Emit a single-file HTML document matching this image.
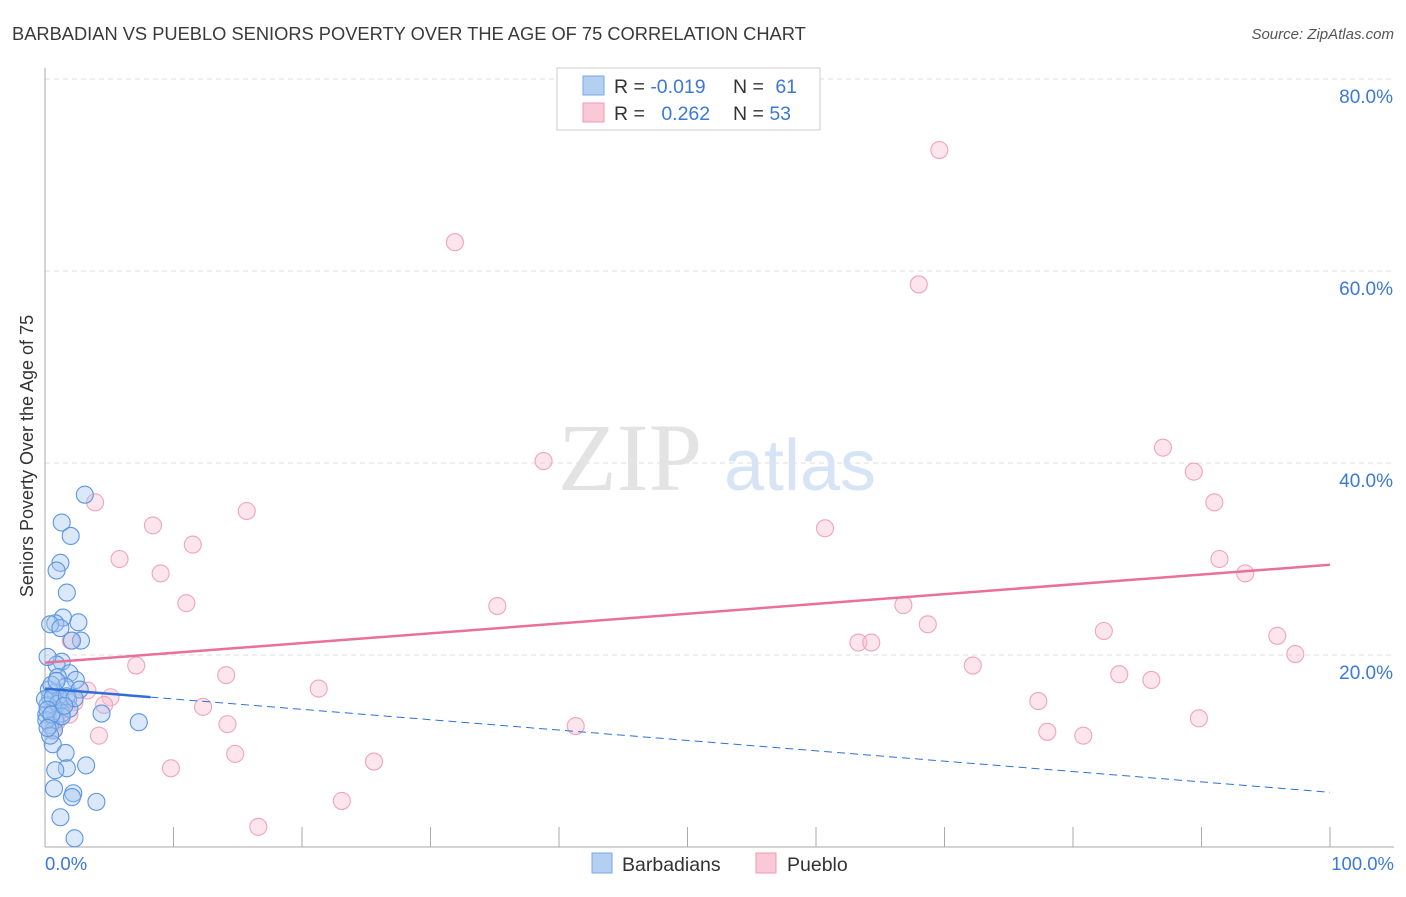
<!DOCTYPE html>
<html><head><meta charset="utf-8"><style>
body{margin:0;background:#fff;font-family:"Liberation Sans",sans-serif;}
</style></head><body>
<svg id="chart" width="1406" height="892" xmlns="http://www.w3.org/2000/svg" font-family="Liberation Sans, sans-serif">
<text x="12" y="40" font-size="18.3" fill="#3a3a3a">BARBADIAN VS PUEBLO SENIORS POVERTY OVER THE AGE OF 75 CORRELATION CHART</text>
<text x="1394" y="39" font-size="15" fill="#555" font-style="italic" text-anchor="end">Source: ZipAtlas.com</text>
<g id="grid"></g>
<text x="630" y="490" font-size="96" fill="#e3e3e3" font-family="Liberation Serif, serif" text-anchor="middle">ZIP</text>
<text x="800" y="490" font-size="72" fill="#d6e4f5" text-anchor="middle">atlas</text>
<line x1="45" y1="68" x2="45" y2="847" stroke="#aaa" stroke-width="1"/>
<line x1="45" y1="847" x2="1394" y2="847" stroke="#aaa" stroke-width="1"/>
<g id="xticks"></g>
<text x="45" y="870" font-size="18.5" fill="#3b78d8">0.0%</text>
<text x="1394" y="870" font-size="18.5" fill="#3b78d8" text-anchor="end">100.0%</text>
<text transform="translate(33,456) rotate(-90)" font-size="18" fill="#333" text-anchor="middle">Seniors Poverty Over the Age of 75</text>
<g id="points"></g>
<g id="trends"></g>
<g>
<rect x="557" y="68" width="263" height="62" fill="#fff" stroke="#ccc"/>
<rect x="583" y="76" width="21" height="19" fill="#b3cff2" stroke="#7aa7e6"/>
<rect x="583" y="103" width="21" height="19" fill="#fac8d6" stroke="#ef9ab3"/>
<text x="614" y="93" font-size="19.5" fill="#333">R = <tspan fill="#3b78d8">-0.019</tspan></text>
<text x="733" y="93" font-size="19.5" fill="#333">N = <tspan fill="#3b78d8" dx="6">61</tspan></text>
<text x="614" y="120" font-size="19.5" fill="#333">R = <tspan fill="#3b78d8" dx="11">0.262</tspan></text>
<text x="733" y="120" font-size="19.5" fill="#333">N = <tspan fill="#3b78d8">53</tspan></text>
</g>
<g>
<rect x="592" y="853" width="20" height="20" fill="#b3cff2" stroke="#7aa7e6"/>
<text x="622" y="871" font-size="19.5" fill="#333">Barbadians</text>
<rect x="756" y="853" width="20" height="20" fill="#fac8d6" stroke="#ef9ab3"/>
<text x="787" y="871" font-size="19.5" fill="#333">Pueblo</text>
</g>
</svg>
<script>
const yTicks=[20,40,60,80];
const yTickLabels=["20.0%","40.0%","60.0%","80.0%"];
const xTicks=[0,10,20,30,40,50,60,70,80,90,100];
const barbX=[3.1,1.3,2.0,1.2,0.9,1.7,1.4,0.8,2.6,0.4,1.2,2.8,2.1,1.3,0.9,0.2,1.9,1.0,2.4,1.6,0.8,2.7,1.8,0.4,1.2,0.2,0.7,1.3,0.1,0.8,0.4,0.7,4.4,7.3,0.6,1.6,3.2,1.7,0.8,0.7,2.2,2.1,4.0,1.2,2.3,0.3,0.5,0.0,1.0,1.9,0.1,0.4,1.3,0.6,1.7,0.9,2.3,0.2,0.5,0.2,1.5];
const barbY=[36.7,33.8,32.4,29.6,28.8,26.5,23.9,23.3,23.4,23.2,22.8,21.5,21.5,19.3,19.0,19.8,18.1,17.7,17.4,16.7,16.1,16.4,15.4,15.6,15.4,14.8,14.2,13.9,13.8,13.2,12.7,12.2,13.9,13.0,10.7,9.8,8.5,8.2,8.0,6.1,5.6,5.2,4.7,3.1,0.9,16.4,16.9,15.4,14.9,14.4,13.2,11.6,13.6,15.6,15.7,17.3,15.5,14.3,13.8,12.4,14.7];
const puebX=[69.6,31.9,68.0,38.8,87.0,89.4,91.0,3.9,15.7,8.4,60.7,11.5,5.8,91.4,9.0,93.4,11.0,35.2,66.8,68.7,82.4,95.9,2.0,63.3,64.3,97.3,7.1,72.2,83.6,86.1,14.1,21.3,3.3,5.1,77.3,12.3,4.6,2.3,1.9,89.8,14.2,41.3,78.0,80.8,4.2,0.6,14.8,25.6,9.8,23.1,16.6,1.2,0.9];
const puebY=[72.6,63.0,58.6,40.2,41.6,39.1,35.9,35.9,35.0,33.5,33.2,31.5,30.0,30.0,28.5,28.5,25.4,25.1,25.2,23.2,22.5,22.0,21.5,21.3,21.3,20.1,18.9,18.9,18.0,17.4,17.9,16.5,16.3,15.6,15.2,14.6,14.8,15.1,13.8,13.4,12.8,12.6,12.0,11.6,11.6,12.1,9.7,8.9,8.2,4.8,2.1,14.2,13.0];
const trendPueb=[19.2,29.4];
const trendBarb=[16.5,5.7];
const barbSolidEnd=8.2;
const NS='http://www.w3.org/2000/svg';
const X=v=>45+v*12.85, Y=v=>847-v*9.6;
function mk(tag,attrs,parent){const e=document.createElementNS(NS,tag);for(const k in attrs)e.setAttribute(k,attrs[k]);parent.appendChild(e);return e;}
const grid=document.getElementById('grid');
yTicks.forEach((t,i)=>{
 const l=mk('line',{x1:45,x2:1394,y1:Y(t),y2:Y(t),stroke:'#ddd','stroke-dasharray':'5,4'},grid);
 
 
 const tx=mk('text',{x:1393,y:Y(t)+24,'font-size':19,fill:'#3b78d8','text-anchor':'end'},grid);
 tx.textContent=yTickLabels[i];
 
 
});
const xt=document.getElementById('xticks');
xTicks.forEach(t=>{
 const l=mk('line',{x1:X(t),x2:X(t),y1:827,y2:847,stroke:'#aaa'},xt);
 
 
});
const pts=document.getElementById('points');
puebX.forEach((x,i)=>{
 const c=mk('circle',{cx:X(x),cy:Y(puebY[i]),r:8.5,fill:'rgba(248,190,208,0.4)',stroke:'#f0a4bb','stroke-width':1.1},pts);
 
 
});
barbX.forEach((x,i)=>{
 const c=mk('circle',{cx:X(x),cy:Y(barbY[i]),r:8.5,fill:'rgba(165,198,240,0.4)',stroke:'#5b95e2','stroke-width':1.1},pts);
 
 
});
const tr=document.getElementById('trends');
const bAt=x=>trendBarb[0]+(trendBarb[1]-trendBarb[0])*x/100;
let l1=mk('line',{x1:X(0),y1:Y(trendPueb[0]),x2:X(100),y2:Y(trendPueb[1]),stroke:'#e8709a','stroke-width':2.5},tr);


let l2=mk('line',{x1:X(0),y1:Y(bAt(0)),x2:X(barbSolidEnd),y2:Y(bAt(barbSolidEnd)),stroke:'#2f6fd6','stroke-width':2.5},tr);


let l3=mk('line',{x1:X(barbSolidEnd),y1:Y(bAt(barbSolidEnd)),x2:X(100),y2:Y(bAt(100)),stroke:'#2f6fd6','stroke-width':1,'stroke-dasharray':'8,5'},tr);


</script>
</body></html>
